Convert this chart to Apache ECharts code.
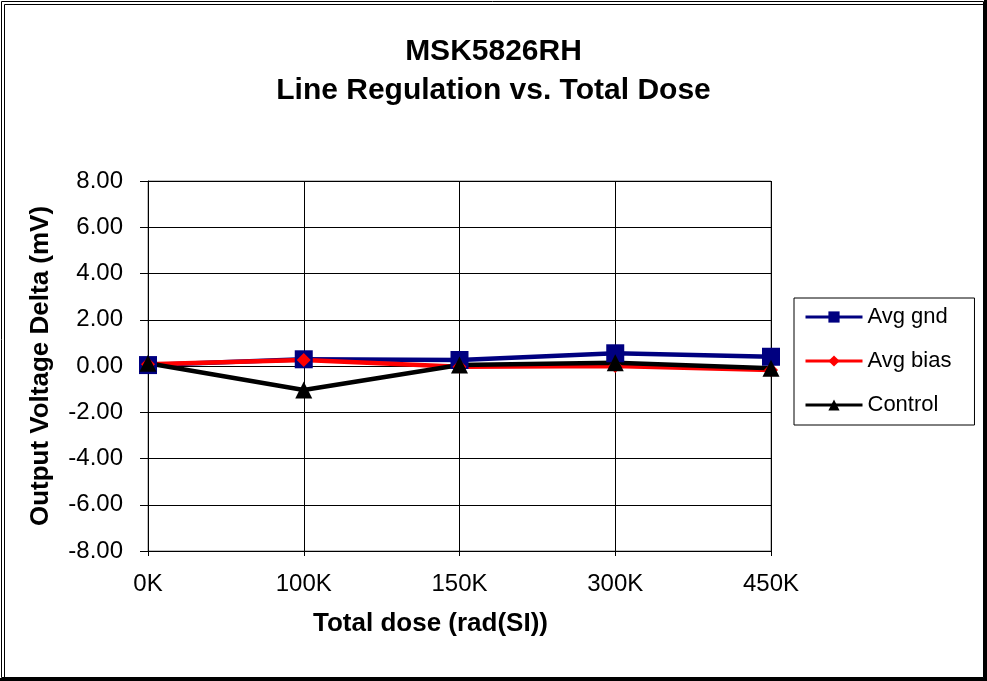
<!DOCTYPE html>
<html><head><meta charset="utf-8">
<script src="https://cdn.jsdelivr.net/npm/echarts@6/dist/echarts.min.js"></script>
<style>html,body{margin:0;padding:0;background:#fff}#c{width:987px;height:681px}</style>
</head><body><div id="c"></div>
<script>
var categories = ['0K','100K','150K','300K','450K'];
var avgGnd = [0.04, 0.29, 0.26, 0.55, 0.40];
var avgBias = [0.08, 0.26, -0.03, 0.00, -0.17];
var control = [0.12, -1.04, 0.04, 0.14, -0.10];
var yTicks = {min: -8, max: 8, interval: 2};

var font = 'Liberation Sans, Arial, sans-serif';
var chart = echarts.init(document.getElementById('c'));
chart.setOption({
  animation: false,
  backgroundColor: '#fff',
  title: {
    text: 'MSK5826RH\nLine Regulation vs. Total Dose',
    left: 'center', top: 27,
    textStyle: {fontFamily: font, fontSize: 30, fontWeight: 'bold', color: '#000', lineHeight: 39}
  },
  grid: {left: 148, top: 181, right: 216, bottom: 130, show: true, borderColor: '#808080', borderWidth: 1},
  legend: {
    orient: 'vertical', left: 794, top: 298,
    padding: [8, 23, 9, 10],
    borderColor: '#000', borderWidth: 1,
    itemWidth: 57, itemHeight: 14, itemGap: 22,
    lineStyle: {width: 3},
    textStyle: {fontFamily: font, fontSize: 22, color: '#000', lineHeight: 22},
    data: ['Avg gnd', 'Avg bias', 'Control']
  },
  xAxis: {
    type: 'category', data: categories, boundaryGap: false,
    name: 'Total dose (rad(SI))', nameLocation: 'middle', nameGap: 60,
    nameTextStyle: {fontFamily: font, fontSize: 26, fontWeight: 'bold', color: '#000', padding: [0, 58, 0, 0]},
    axisLine: {lineStyle: {color: '#000', width: 1}, onZero: false},
    axisTick: {show: true, inside: false, length: 5, lineStyle: {color: '#000'}},
    axisLabel: {fontFamily: font, fontSize: 24, color: '#000', margin: 21, showMaxLabel: true, showMinLabel: true},
    splitLine: {show: true, lineStyle: {color: '#000', width: 1}}
  },
  yAxis: {
    type: 'value', min: yTicks.min, max: yTicks.max, interval: yTicks.interval,
    name: 'Output Voltage Delta (mV)', nameLocation: 'middle', nameGap: 94,
    nameTextStyle: {fontFamily: font, fontSize: 26, fontWeight: 'bold', color: '#000'},
    axisLine: {show: true, lineStyle: {color: '#000', width: 1}},
    axisTick: {show: true, length: 8, lineStyle: {color: '#000'}},
    axisLabel: {fontFamily: font, fontSize: 24, color: '#000', margin: 25,
      formatter: function (v) { return v.toFixed(2); }},
    splitLine: {show: true, lineStyle: {color: '#000', width: 1}}
  },
  series: [
    {name: 'Avg gnd', type: 'line', data: avgGnd, symbol: 'rect', symbolSize: 18,
     lineStyle: {color: '#000080', width: 4.5}, itemStyle: {color: '#000080'}},
    {name: 'Avg bias', type: 'line', data: avgBias, symbol: 'diamond', symbolSize: 14,
     lineStyle: {color: '#ff0000', width: 4.5}, itemStyle: {color: '#ff0000'}},
    {name: 'Control', type: 'line', data: control, symbol: 'triangle', symbolSize: 17,
     lineStyle: {color: '#000', width: 4.5}, itemStyle: {color: '#000'}}
  ],
  graphic: [
    {type: 'rect', shape: {x: 1.5, y: 1.5, width: 982, height: 676}, style: {fill: 'none', stroke: '#000', lineWidth: 1}, silent: true},
    {type: 'rect', shape: {x: 4.5, y: 4.5, width: 979, height: 673}, style: {fill: 'none', stroke: '#000', lineWidth: 1}, silent: true},
    {type: 'line', shape: {x1: 0, y1: 679.5, x2: 987, y2: 679.5}, style: {stroke: '#000', lineWidth: 3}, silent: true},
    {type: 'line', shape: {x1: 985.5, y1: 0, x2: 985.5, y2: 681}, style: {stroke: '#000', lineWidth: 3}, silent: true}
  ]
});
</script></body></html>
